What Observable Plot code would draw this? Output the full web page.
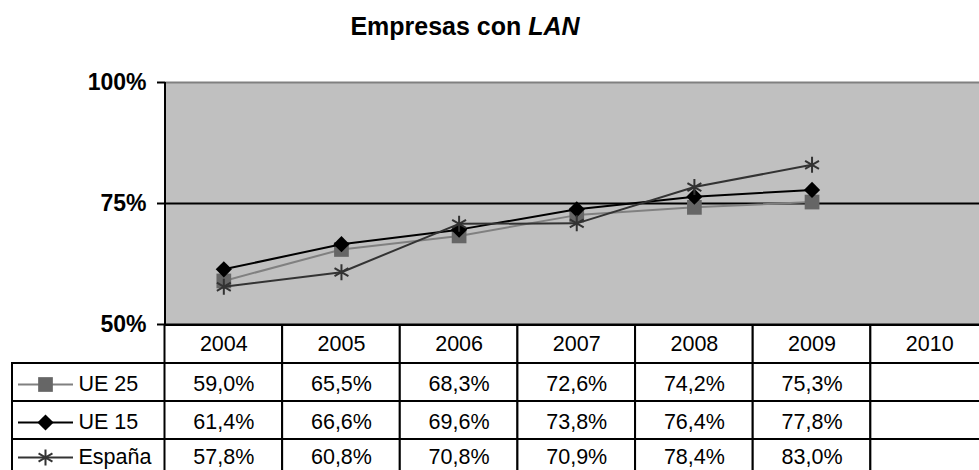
<!DOCTYPE html>
<html><head><meta charset="utf-8">
<script src="https://cdn.jsdelivr.net/npm/d3@7"></script>
<script src="https://cdn.jsdelivr.net/npm/@observablehq/plot@0.6"></script>
<style>
html,body{margin:0;padding:0;background:#fff;overflow:hidden;}
#wrap{position:relative;width:979px;height:470px;overflow:hidden;}
#title{position:absolute;left:0;top:12px;width:930px;text-align:center;font:bold 25px "Liberation Sans",Arial,sans-serif;color:#000;z-index:2;}
svg{display:block;}
#chart svg:first-child{position:relative;z-index:1;}
[aria-label="y-axis tick label"] text{font-weight:bold;}
</style></head><body>
<div id="wrap"><div id="title">Empresas con <i>LAN</i></div><div id="chart"></div></div>
<script>
const years = [2004, 2005, 2006, 2007, 2008, 2009, 2010];
const seriesNames = ["UE 25", "UE 15", "España"];
const ue25 = [59.0, 65.5, 68.3, 72.6, 74.2, 75.3];
const ue15 = [61.4, 66.6, 69.6, 73.8, 76.4, 77.8];
const espana = [57.8, 60.8, 70.8, 70.9, 78.4, 83.0];
const yTicks = [50, 75, 100];

const font = '"Liberation Sans", Arial, sans-serif';
const valuesBySeries = {"UE 25": ue25, "UE 15": ue15, "España": espana};
const data = seriesNames.flatMap(name => valuesBySeries[name].map((v, j) => ({series: name, year: years[j], value: v})));

const styles = {
  "UE 25": {line: "#808080", mark: "#666666", symbol: "square", r: 8.3, filled: true},
  "UE 15": {line: "#000000", mark: "#000000", symbol: "diamond2", r: 7.3, filled: true},
  "España": {line: "#333333", mark: "#333333", symbol: "asterisk", r: 7.6, filled: false}
};
const rowShift = {"UE 25": 2, "UE 15": 2, "España": -1};
const xScale = {type: "linear", domain: [years[0] - 0.5, years[years.length - 1] + 0.5], range: [164.5, 988]};
const lineSymbol = {draw(ctx) { ctx.moveTo(-27.5, 0); ctx.lineTo(27.5, 0); }};
const fmt = v => v.toFixed(1).replace(".", ",") + "%";

function seriesMarks(name) {
  const s = styles[name];
  const d = data.filter(e => e.series === name);
  return [
    Plot.line(d, {x: "year", y: "value", stroke: s.line, strokeWidth: 2}),
    Plot.dot(d, {x: "year", y: "value", symbol: s.symbol, r: s.r,
      fill: s.filled ? s.mark : "none", stroke: s.filled ? "none" : s.mark, strokeWidth: 2})
  ];
}

const chart = Plot.plot({
  width: 979, height: 325, marginLeft: 165, marginRight: 0, marginTop: 82, marginBottom: 1,
  style: {fontFamily: font, color: "black", background: "transparent", overflow: "visible"},
  x: {...xScale, axis: null},
  y: {domain: [50, 100], axis: null, label: null},
  marks: [
    Plot.frame({fill: "#c0c0c0", stroke: "none"}),
    Plot.ruleY([100], {stroke: "#808080", strokeWidth: 2}),
    Plot.ruleY([75], {stroke: "#000", strokeWidth: 2}),
    Plot.ruleY([50], {stroke: "#000", strokeWidth: 2}),
    Plot.axisY(yTicks, {anchor: "left", label: null, tickSize: 8, tickPadding: 11, tickFormat: d => d + "%",
      fontSize: 23, fontWeight: "bold", strokeWidth: 2, stroke: "#000", fill: "#000"}),
    Plot.ruleX([years[0] - 0.5], {stroke: "#000", strokeWidth: 2}),
    ...seriesNames.flatMap(seriesMarks)
  ]
});

const cells = ["header", ...seriesNames].flatMap(row => years.map(year => ({row, year})));
const legendMarks = seriesNames.flatMap(name => {
  const s = styles[name];
  return [
    Plot.dot([name], {y: d => d, frameAnchor: "left", dx: 33, dy: rowShift[name], symbol: lineSymbol, r: 5,
      fill: "none", stroke: s.line, strokeWidth: 2}),
    Plot.dot([name], {y: d => d, frameAnchor: "left", dx: 33, dy: rowShift[name], symbol: s.symbol, r: s.r,
      fill: s.filled ? s.mark : "none", stroke: s.filled ? "none" : s.mark, strokeWidth: 2}),
    Plot.text([name], {y: d => d, frameAnchor: "left", dx: 66, dy: rowShift[name], textAnchor: "start",
      text: d => d, fontSize: 21.5, fill: "#000"}),
    Plot.text(data.filter(e => e.series === name), {x: "year", y: "series", text: d => fmt(d.value),
      dy: rowShift[name], fontSize: 21.5, fill: "#000"})
  ];
});

const table = Plot.plot({
  width: 979, height: 145, marginLeft: 12, marginRight: 0, marginTop: 0, marginBottom: 0,
  style: {fontFamily: font, color: "black", background: "transparent", overflow: "hidden"},
  x: {...xScale, axis: null},
  y: {type: "band", domain: ["header", ...seriesNames], range: [0, 152], padding: 0, axis: null},
  marks: [
    Plot.cell(seriesNames, {y: d => d, fill: "white", stroke: "#000", strokeWidth: 2, insetRight: -30}),
    Plot.barX(cells, {x1: d => d.year - 0.5, x2: d => d.year + 0.5, y: "row", fill: "white", stroke: "#000", strokeWidth: 2}),
    Plot.text(years, {x: d => d, y: () => "header", text: d => String(d), fontSize: 21.5, fill: "#000"}),
    ...legendMarks
  ]
});

const host = document.getElementById("chart");
host.appendChild(chart);
host.appendChild(table);
</script>
</body></html>
